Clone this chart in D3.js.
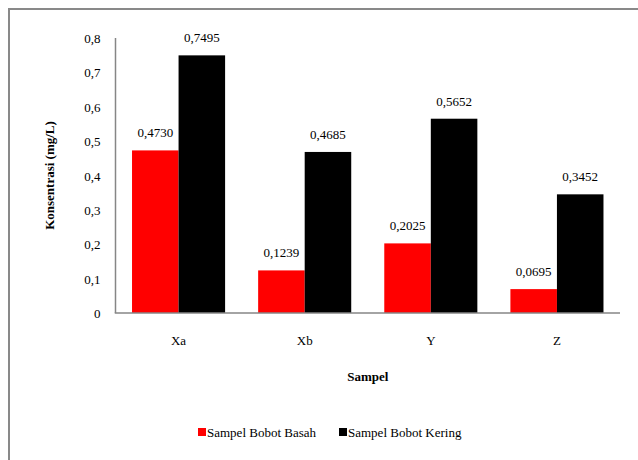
<!DOCTYPE html>
<html>
<head>
<meta charset="utf-8">
<script src="https://cdn.jsdelivr.net/npm/d3@7"></script>
</head>
<body style="margin:0;padding:0;background:#fff">
<svg id="chart" width="638" height="460" font-family="Liberation Serif" font-size="13"></svg>
<script>
// Sample categories and concentrations (mg/L)
const categories = ["Xa", "Xb", "Y", "Z"];
const seriesNames = ["Sampel Bobot Basah", "Sampel Bobot Kering"];
const basah = [0.4730, 0.1239, 0.2025, 0.0695];
const kering = [0.7495, 0.4685, 0.5652, 0.3452];
const seriesColors = ["#ff0000", "#000000"];
const yTicks = [0, 0.1, 0.2, 0.3, 0.4, 0.5, 0.6, 0.7, 0.8];

const FONT = "Liberation Serif";
const fmtTick = d => d === 0 ? "0" : d3.format(".1f")(d).replace(".", ",");
const fmtVal = d => d3.format(".4f")(d).replace(".", ",");

const svg = d3.select("#chart");

// outer chart frame
svg.append("rect")
  .attr("x", 9).attr("y", 9)
  .attr("width", 640).attr("height", 460)
  .attr("fill", "none")
  .attr("stroke", "#898989")
  .attr("stroke-width", 2);

const plot = { left: 115.5, right: 620, top: 38, bottom: 313 };

const x = d3.scaleBand()
  .domain(categories)
  .range([plot.left, plot.right])
  .paddingInner(0.262)
  .paddingOuter(0.131);

const xSub = d3.scaleBand()
  .domain(seriesNames)
  .range([0, x.bandwidth()]);

const y = d3.scaleLinear()
  .domain([0, 0.8])
  .range([plot.bottom, plot.top]);

// y tick labels
const yAxis = d3.axisLeft(y).tickValues(yTicks).tickFormat(fmtTick).tickSize(0).tickPadding(15);
const gy = svg.append("g").attr("transform", `translate(${plot.left},0)`).call(yAxis);
gy.select(".domain").remove();
gy.attr("font-family", FONT).attr("font-size", 13);
gy.selectAll("text").attr("font-family", FONT).attr("font-size", 13).attr("dy", "0.35em");

// bars
const rows = categories.map((c, i) => ({ cat: c, vals: [basah[i], kering[i]] }));
const groups = svg.append("g").selectAll("g")
  .data(rows).join("g")
  .attr("transform", d => `translate(${x(d.cat)},0)`);

groups.selectAll("rect")
  .data(d => d.vals.map((v, j) => ({ v, name: seriesNames[j], color: seriesColors[j] })))
  .join("rect")
  .attr("x", d => xSub(d.name))
  .attr("width", xSub.bandwidth())
  .attr("y", d => y(d.v))
  .attr("height", d => plot.bottom - y(d.v))
  .attr("fill", d => d.color);

// value labels
groups.selectAll("text.val")
  .data(d => d.vals.map((v, j) => ({ v, name: seriesNames[j] })))
  .join("text")
  .attr("class", "val")
  .attr("x", d => xSub(d.name) + xSub.bandwidth() / 2)
  .attr("y", d => y(d.v) - 13)
  .attr("text-anchor", "middle")
  .attr("font-family", FONT)
  .attr("font-size", 13)
  .text(d => fmtVal(d.v));

// axis lines
svg.append("line")
  .attr("x1", plot.left).attr("x2", plot.left)
  .attr("y1", plot.top).attr("y2", plot.bottom)
  .attr("stroke", "#868686").attr("stroke-width", 1.5);
svg.append("line")
  .attr("x1", plot.left - 0.75).attr("x2", plot.right)
  .attr("y1", plot.bottom).attr("y2", plot.bottom)
  .attr("stroke", "#868686").attr("stroke-width", 1.5);

// x category labels
const xAxis = d3.axisBottom(x).tickSize(0).tickPadding(23);
const gx = svg.append("g").attr("transform", `translate(0,${plot.bottom})`).call(xAxis);
gx.select(".domain").remove();
gx.attr("font-family", FONT).attr("font-size", 13);
gx.selectAll("text").attr("font-family", FONT).attr("font-size", 13);

// axis titles
svg.append("text")
  .attr("x", (plot.left + plot.right) / 2)
  .attr("y", 381)
  .attr("text-anchor", "middle")
  .attr("font-family", FONT)
  .attr("font-size", 13)
  .attr("font-weight", "bold")
  .text("Sampel");

svg.append("text")
  .attr("transform", `translate(54,${(plot.top + plot.bottom) / 2}) rotate(-90)`)
  .attr("text-anchor", "middle")
  .attr("font-family", FONT)
  .attr("font-size", 13)
  .attr("font-weight", "bold")
  .text("Konsentrasi (mg/L)");

// legend
const legendX = [198, 339];
const legend = svg.append("g").selectAll("g")
  .data(seriesNames).join("g")
  .attr("transform", (d, i) => `translate(${legendX[i]},432)`);
legend.append("rect")
  .attr("x", 0).attr("y", -4)
  .attr("width", 8).attr("height", 8)
  .attr("fill", (d, i) => seriesColors[i]);
legend.append("text")
  .attr("x", 9).attr("y", 0).attr("dy", "0.35em")
  .attr("font-family", FONT)
  .attr("font-size", 13)
  .text(d => d);
</script>
</body>
</html>
